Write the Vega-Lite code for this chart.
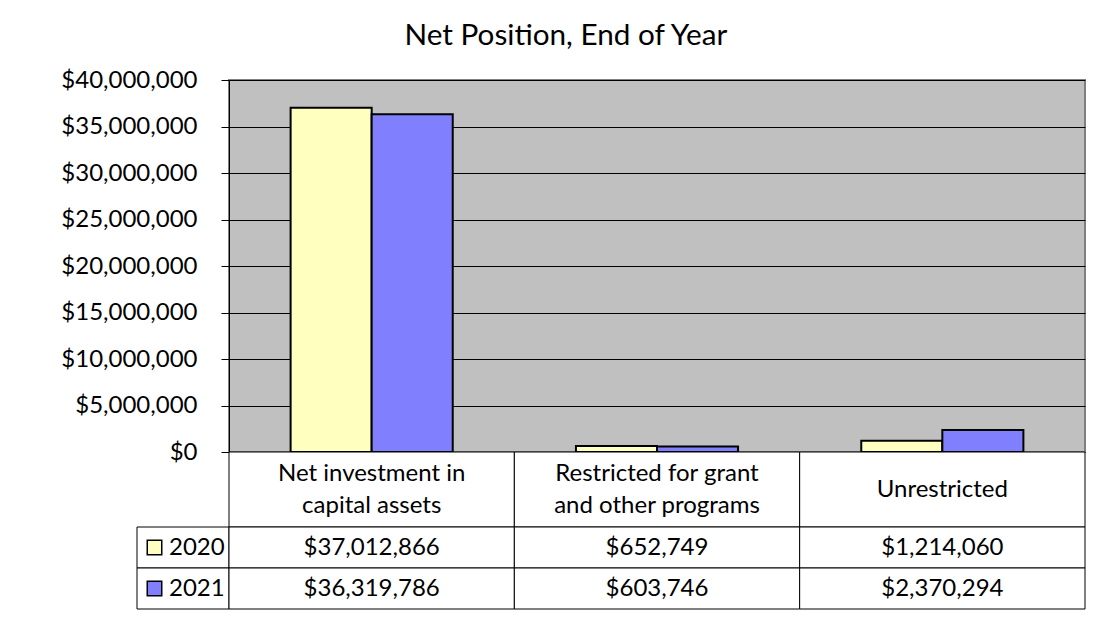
{
  "$schema": "https://vega.github.io/schema/vega-lite/v6.json",
  "padding": {"left": 59, "top": 21, "right": 5, "bottom": 5},
  "background": "white",
  "title": {"text": "Net Position, End of Year", "fontSize": 29.7, "font": "Lato", "fontWeight": "normal", "color": "black", "anchor": "middle", "frame": "bounds", "offset": 15, "dx": -7},
  "columns": 2,
  "bounds": "flush",
  "spacing": 0,
  "datasets": {
    "net": [
      {"category": "Net investment in capital assets", "year": "2020", "value": 37012866},
      {"category": "Net investment in capital assets", "year": "2021", "value": 36319786},
      {"category": "Restricted for grant and other programs", "year": "2020", "value": 652749},
      {"category": "Restricted for grant and other programs", "year": "2021", "value": 603746},
      {"category": "Unrestricted", "year": "2020", "value": 1214060},
      {"category": "Unrestricted", "year": "2021", "value": 2370294}
    ],
    "cats": [
      {"category": "Net investment in capital assets", "label": "Net investment in\ncapital assets"},
      {"category": "Restricted for grant and other programs", "label": "Restricted for grant\nand other programs"},
      {"category": "Unrestricted", "label": "Unrestricted"}
    ],
    "years": [{"year": "2020"}, {"year": "2021"}]
  },
  "config": {"view": {"stroke": null}, "font": "Lato"},
  "concat": [
    {
      "width": 92, "height": 372,
      "data": {"values": [{"a": 1}]},
      "mark": {"type": "text", "text": ""}
    },
    {
      "width": 856, "height": 372,
      "view": {"fill": "#C0C0C0", "stroke": "#808080", "strokeWidth": 2},
      "data": {"name": "net"},
      "mark": {"type": "bar", "stroke": "black", "strokeWidth": 2},
      "encoding": {
        "x": {"field": "category", "type": "nominal", "scale": {"domain": ["Net investment in capital assets", "Restricted for grant and other programs", "Unrestricted"], "paddingInner": 0, "paddingOuter": 0}, "axis": null},
        "xOffset": {"field": "year", "type": "nominal", "scale": {"domain": ["2020", "2021"], "paddingInner": 0, "paddingOuter": 0.76}},
        "y": {"field": "value", "type": "quantitative", "scale": {"domain": [0, 40000000], "nice": false},
          "axis": {"values": [0, 5000000, 10000000, 15000000, 20000000, 25000000, 30000000, 35000000, 40000000], "format": "$,.0f", "title": null, "labelFont": "Lato", "labelFontSize": 24, "labelColor": "black", "labelPadding": 24, "tickColor": "black", "tickSize": 8, "tickWidth": 1, "domainColor": "black", "domainWidth": 1, "gridColor": "black", "gridWidth": 1, "gridOpacity": 1}},
        "color": {"field": "year", "type": "nominal", "scale": {"domain": ["2020", "2021"], "range": ["#FFFFC0", "#8080FF"]}, "legend": null}
      }
    },
    {
      "width": 92, "height": 75,
      "data": {"values": [{"a": 1}]},
      "mark": {"type": "text", "text": ""}
    },
    {
      "width": 856, "height": 75,
      "data": {"name": "cats"},
      "encoding": {
        "x": {"field": "category", "type": "nominal", "scale": {"domain": ["Net investment in capital assets", "Restricted for grant and other programs", "Unrestricted"], "paddingInner": 0, "paddingOuter": 0}, "axis": null}
      },
      "layer": [
        {"mark": {"type": "rect", "fill": "white", "stroke": "black", "strokeWidth": 1}},
        {"transform": [{"filter": "indexof(datum.label, '\\n') >= 0"}],
         "mark": {"type": "text", "font": "Lato", "fontSize": 24, "color": "black", "lineBreak": "\n", "lineHeight": 32, "baseline": "middle", "dy": -16},
         "encoding": {"text": {"field": "label", "type": "nominal"}}},
        {"transform": [{"filter": "indexof(datum.label, '\\n') < 0"}],
         "mark": {"type": "text", "font": "Lato", "fontSize": 24, "color": "black", "baseline": "middle"},
         "encoding": {"text": {"field": "label", "type": "nominal"}}}
      ]
    },
    {
      "width": 92, "height": 82,
      "data": {"name": "years"},
      "encoding": {
        "y": {"field": "year", "type": "nominal", "scale": {"domain": ["2020", "2021"], "paddingInner": 0, "paddingOuter": 0}, "axis": null}
      },
      "layer": [
        {"mark": {"type": "rect", "fill": "white", "stroke": "black", "strokeWidth": 1}},
        {"mark": {"type": "point", "shape": "square", "size": 210, "filled": true, "stroke": "black", "strokeWidth": 1.5, "opacity": 1, "xOffset": -28.5},
         "encoding": {"fill": {"field": "year", "type": "nominal", "scale": {"domain": ["2020", "2021"], "range": ["#FFFFC0", "#8080FF"]}, "legend": null}}},
        {"mark": {"type": "text", "font": "Lato", "fontSize": 24, "color": "black", "align": "left", "dx": -14},
         "encoding": {"text": {"field": "year", "type": "nominal"}}}
      ]
    },
    {
      "width": 856, "height": 82,
      "data": {"name": "net"},
      "encoding": {
        "x": {"field": "category", "type": "nominal", "scale": {"domain": ["Net investment in capital assets", "Restricted for grant and other programs", "Unrestricted"], "paddingInner": 0, "paddingOuter": 0}, "axis": null},
        "y": {"field": "year", "type": "nominal", "scale": {"domain": ["2020", "2021"], "paddingInner": 0, "paddingOuter": 0}, "axis": null}
      },
      "layer": [
        {"mark": {"type": "rect", "fill": "white", "stroke": "black", "strokeWidth": 1}},
        {"mark": {"type": "text", "font": "Lato", "fontSize": 24, "color": "black"},
         "encoding": {"text": {"field": "value", "type": "quantitative", "format": "$,.0f"}}}
      ]
    }
  ]
}
